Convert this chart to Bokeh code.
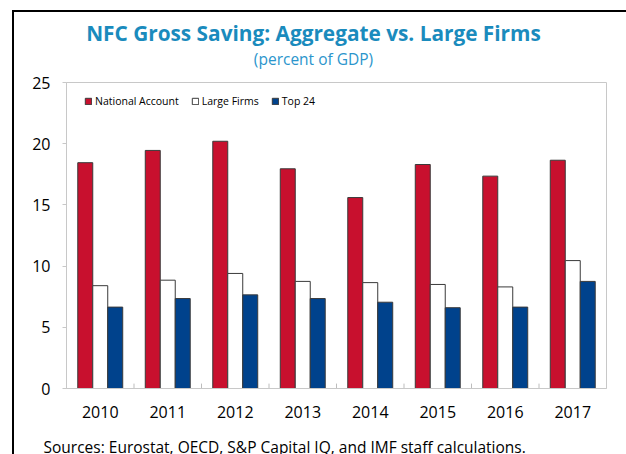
from bokeh.plotting import figure
from bokeh.layouts import column
from bokeh.models import (ColumnDataSource, Range1d, FixedTicker, Legend, LegendItem)
from bokeh.core.properties import value
from bokeh.transform import dodge
from bokeh.embed import file_html
from bokeh.resources import INLINE

years = [2010, 2011, 2012, 2013, 2014, 2015, 2016, 2017]
year_labels = ["2010", "2011", "2012", "2013", "2014", "2015", "2016", "2017"]
national_account = [18.45, 19.45, 20.2, 17.95, 15.6, 18.3, 17.35, 18.65]
large_firms = [8.4, 8.85, 9.4, 8.75, 8.65, 8.5, 8.3, 10.45]
top_24 = [6.65, 7.35, 7.65, 7.35, 7.05, 6.6, 6.65, 8.75]
y_ticks = [0, 5, 10, 15, 20, 25]

series_names = ["National Account", "Large Firms", "Top 24"]
colors = ["#C8102E", "#FFFFFF", "#00428C"]

title_text = "NFC Gross Saving: Aggregate vs. Large Firms"
subtitle_text = "(percent of GDP)"
source_text = "Sources: Eurostat, OECD, S&P Capital IQ, and IMF staff calculations."

src = ColumnDataSource(dict(year=years, na=national_account, lf=large_firms, t24=top_24))

FONT = "Open Sans"
W = 626
TOP_H, MAIN_H, BOT_H = 70, 360, 24


def text_panel(height):
    f = figure(width=W, height=height, output_backend="svg", toolbar_location=None,
               x_range=Range1d(0, W), y_range=Range1d(height, 0),
               x_axis_location=None, y_axis_location=None,
               min_border=0, min_border_left=0, min_border_right=0,
               min_border_top=0, min_border_bottom=0)
    f.frame_align = False
    f.xgrid.visible = False
    f.ygrid.visible = False
    f.outline_line_color = None
    f.background_fill_color = None
    f.border_fill_color = None
    return f


# ---- title / subtitle panel
top = text_panel(TOP_H)
top.text(x=[313], y=[32], text=[title_text], text_align="center", text_baseline="middle",
         text_font=value(FONT), text_font_style="bold", text_font_size="20.8px",
         text_color="#1A8BBD")
top.text(x=[313], y=[58], text=[subtitle_text], text_align="center", text_baseline="middle",
         text_font=value(FONT), text_font_style="normal", text_font_size="15.5px",
         text_color="#2B95CC")

# ---- main chart
p = figure(width=W, height=MAIN_H, output_backend="svg", toolbar_location=None,
           x_range=Range1d(years[0] - 0.5, years[-1] + 0.5), y_range=Range1d(0, 25),
           min_border_left=66, min_border_right=20, min_border_top=12,
           min_border_bottom=MAIN_H - 12 - 306)
p.frame_align = False
p.border_fill_color = None
p.xgrid.visible = False
p.ygrid.visible = False
p.outline_line_color = "#C8C8C8"
p.outline_line_width = 1
p.background_fill_color = "white"

bw = 0.222
cols = ["na", "lf", "t24"]
renderers = []
for i, (c, col) in enumerate(zip(cols, colors)):
    r = p.vbar(x=dodge("year", (i - 1) * bw, range=p.x_range), top=c, width=bw, bottom=0,
               source=src, fill_color=col, line_color="#3A3A3A", line_width=1)
    renderers.append(r)

# tick marks between year groups
bounds = [y + 0.5 for y in years[:-1]]
p.segment(x0=bounds, x1=bounds, y0=[0] * len(bounds), y1=[0.4] * len(bounds),
          line_color="#BDBDBD", line_width=1)

xa = p.xaxis[0]
xa.ticker = FixedTicker(ticks=years)
xa.major_label_overrides = {y: l for y, l in zip(years, year_labels)}
xa.major_tick_in = 0
xa.major_tick_out = 0
xa.minor_tick_line_color = None
xa.axis_line_color = "#C8C8C8"
xa.major_label_standoff = 17
xa.major_label_text_font = FONT
xa.major_label_text_font_size = "16px"
xa.major_label_text_color = "#000000"

ya = p.yaxis[0]
ya.ticker = FixedTicker(ticks=y_ticks)
ya.major_tick_in = 0
ya.major_tick_out = 4
ya.major_tick_line_color = "#C8C8C8"
ya.minor_tick_line_color = None
ya.axis_line_color = "#C8C8C8"
ya.major_label_standoff = 12
ya.major_label_text_font = FONT
ya.major_label_text_font_size = "16px"
ya.major_label_text_color = "#000000"

legend = Legend(items=[LegendItem(label=n, renderers=[r]) for n, r in zip(series_names, renderers)],
                orientation="horizontal", location=(18, 280), padding=2, margin=0,
                spacing=12, glyph_width=8, glyph_height=8, label_height=12, label_standoff=3,
                label_text_font=FONT, label_text_font_size="10.5px", label_text_color="#000000",
                border_line_color=None, background_fill_alpha=0)
p.add_layout(legend, "center")

# ---- source panel
bot = text_panel(BOT_H)
bot.text(x=[43], y=[16], text=[source_text], text_align="left", text_baseline="middle",
         text_font=value(FONT), text_font_style="normal", text_font_size="15.5px",
         text_color="#000000")

layout = column(top, p, bot, spacing=0)
# black left and top rules of the exhibit box, drawn as CSS background
layout.styles = {"background-image": "linear-gradient(#000,#000), linear-gradient(#000,#000)",
                 "background-size": "2px 444px, 614px 2px",
                 "background-position": "12px 10px, 12px 10px",
                 "background-repeat": "no-repeat"}

open("out.html", "w").write(file_html(layout, INLINE))
